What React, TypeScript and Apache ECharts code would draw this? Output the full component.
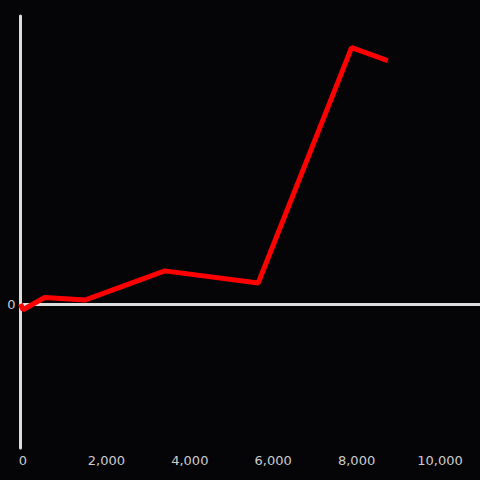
import React, { useEffect, useRef } from "react";
import * as echarts from "echarts";

const xValues = [-60, 0, 520, 1500, 3400, 5640, 7880, 8750];
const yValues = [0, -4, 4.5, 2.8, 23, 14.6, 178, 169];
const xTickStep = 2000;

export default function App() {
  const ref = useRef<HTMLDivElement>(null);
  useEffect(() => {
    if (!ref.current) return;
    const chart = echarts.init(ref.current, undefined, { renderer: "svg" });
    const data = xValues.map((x, i) => [x, yValues[i]]);
    const xMin = -60;
    const xMax = 10960;
    chart.setOption({
      animation: false,
      backgroundColor: "#050407",
      grid: { left: 20.5, right: 0, top: 16, bottom: 32, containLabel: false },
      xAxis: [
        {
          type: "value",
          min: xMin,
          max: xMax,
          position: "bottom",
          axisLine: { show: false, onZero: false },
          axisTick: { show: false },
          splitLine: { show: false },
          axisLabel: {
            margin: 6,
            color: "#cccccc",
            fontSize: 13,
            fontFamily: "DejaVu Sans",
            showMinLabel: false,
            showMaxLabel: false,
            formatter: (v: number) =>
              v >= 0 && Math.abs(v % xTickStep) < 1e-6 ? v.toLocaleString("en-US") : "",
          },
        },
        {
          type: "value",
          min: xMin,
          max: xMax,
          position: "bottom",
          axisLine: {
            show: true,
            onZero: true,
            onZeroAxisIndex: 0,
            lineStyle: { color: "#dddddd", width: 3 },
          },
          axisTick: { show: false },
          axisLabel: { show: false },
          splitLine: { show: false },
        },
      ],
      yAxis: {
        type: "value",
        min: -100,
        max: 200,
        interval: 100,
        axisLine: { show: true, onZero: false, lineStyle: { color: "#dddddd", width: 3 } },
        axisTick: { show: false },
        splitLine: { show: false },
        axisLabel: {
          margin: 5,
          color: "#cccccc",
          fontSize: 13,
          fontFamily: "DejaVu Sans",
          formatter: (v: number) => (v === 0 ? "0" : ""),
        },
      },
      series: [
        {
          type: "line",
          xAxisIndex: 0,
          data,
          symbol: "none",
          lineStyle: { color: "#ff0000", width: 5 },
          z: 5,
        },
      ],
    });
    return () => chart.dispose();
  }, []);
  return (
    <div
      ref={ref}
      style={{ position: "fixed", left: 0, top: 0, width: 480, height: 480 }}
    />
  );
}
